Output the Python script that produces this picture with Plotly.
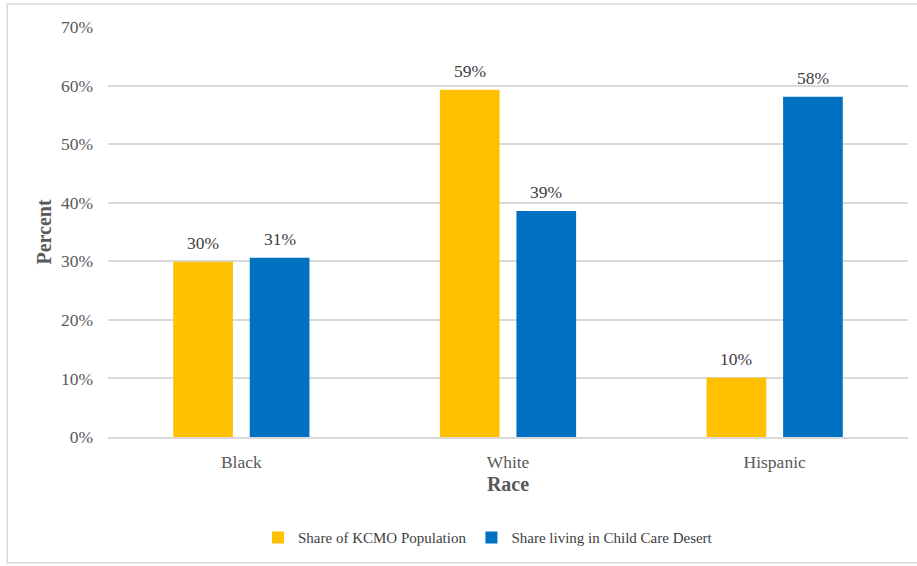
import plotly.graph_objects as go

categories = ["Black", "White", "Hispanic"]
share_population = [29.9, 59.3, 10.1]
share_desert = [30.6, 38.6, 58.1]
labels_population = ["30%", "59%", "10%"]
labels_desert = ["31%", "39%", "58%"]
series_names = ["Share of KCMO Population", "Share living in Child Care Desert"]
y_ticks = [0, 10, 20, 30, 40, 50, 60, 70]
y_tick_labels = ["0%", "10%", "20%", "30%", "40%", "50%", "60%", "70%"]

FONT = "Liberation Serif"
BARGAP = 0.426
PLOT_W = 800

fig = go.Figure()
fig.add_trace(go.Bar(
    x=categories, y=share_population, name=series_names[0],
    marker=dict(color="#FFC000", line=dict(width=0)),
))
fig.add_trace(go.Bar(
    x=categories, y=share_desert, name=series_names[1],
    marker=dict(color="#0070C0", line=dict(width=0)),
))

# data labels above bars, offset to each bar of the group
slot = (1 - BARGAP) / 2 * PLOT_W / len(categories)
annotations = []
for vals, labs, side in [(share_population, labels_population, -1), (share_desert, labels_desert, 1)]:
    for c, v, t in zip(categories, vals, labs):
        annotations.append(dict(
            x=c, y=v, text=t, showarrow=False, xshift=side * slot / 2, yshift=7,
            yanchor="bottom", font=dict(family=FONT, size=17.5, color="#404040"),
        ))

fig.update_layout(
    width=917, height=566,
    margin=dict(l=108, r=9, t=27, b=129),
    paper_bgcolor="white", plot_bgcolor="white",
    barmode="group", bargap=BARGAP, bargroupgap=0.22,
    font=dict(family=FONT, color="#595959", size=14),
    showlegend=True,
    legend=dict(orientation="h", x=0.475, xanchor="center", y=-0.246, yanchor="middle",
                font=dict(family=FONT, size=15, color="#404040"),
                itemwidth=30, tracegroupgap=0),
    annotations=annotations,
    shapes=[dict(type="rect", xref="paper", yref="paper",
                 x0=-0.126, x1=1.02, y0=-0.307, y1=1.056,
                 line=dict(color="#d9d9d9", width=1.5), fillcolor="rgba(0,0,0,0)", layer="below")],
)
fig.update_yaxes(
    range=[0, 70], tickvals=y_ticks, ticktext=y_tick_labels,
    showgrid=True, gridcolor="#d9d9d9", gridwidth=1.5, zeroline=False,
    ticklabelstandoff=14, tickfont=dict(family=FONT, size=17.5, color="#595959"),
    title=dict(text="<b>Percent</b>", font=dict(family=FONT, size=20, color="#595959"), standoff=3),
)
fig.update_xaxes(
    showline=True, linecolor="#d9d9d9", linewidth=1.5, ticks="",
    ticklabelstandoff=8,
    tickfont=dict(family=FONT, size=17.5, color="#595959"),
    title=dict(text="<b>Race</b>", font=dict(family=FONT, size=20, color="#595959"), standoff=6),
)

fig.write_html("out.html")
